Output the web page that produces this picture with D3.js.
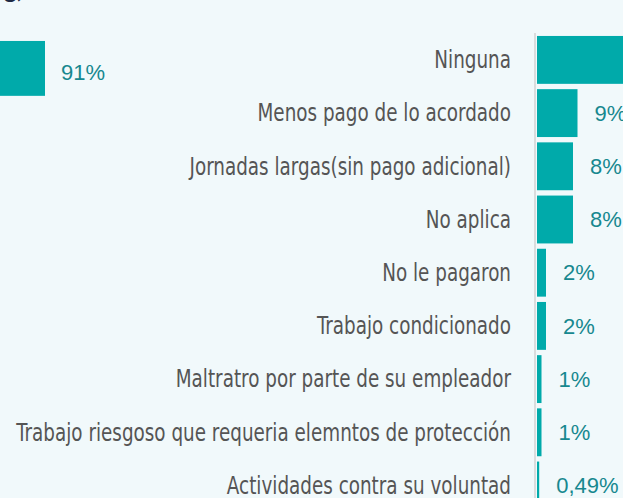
<!DOCTYPE html>
<html lang="es">
<head>
<meta charset="UTF-8">
<title>Situaciones laborales</title>
<script src="https://cdn.jsdelivr.net/npm/d3@7"></script>
<style>
    html, body { margin: 0; padding: 0; background: #f1f9fb; overflow: hidden; }
    .cat { font-family: "DejaVu Sans Condensed", "Liberation Sans Narrow", "Open Sans", sans-serif; fill: #555; }
    .val { font-family: "Liberation Sans", Arial, sans-serif; fill: #17888f; }
</style>
</head>
<body>
<svg id="chart" width="623" height="498"></svg>
<script>
    // data
    const categories = [
        "Ninguna",
        "Menos pago de lo acordado",
        "Jornadas largas(sin pago adicional)",
        "No aplica",
        "No le pagaron",
        "Trabajo condicionado",
        "Maltratro por parte de su empleador",
        "Trabajo riesgoso que requeria elemntos de protección",
        "Actividades contra su voluntad"
    ];
    const values = [91, 9, 8, 8, 2, 2, 1, 1, 0.49];
    const valueLabels = ["91%", "9%", "8%", "8%", "2%", "2%", "1%", "1%", "0,49%"];

    const W = 623, H = 498;
    const x0 = 537;        // where bars start
    const labelRight = 511;
    const barColor = "#00aaaa";

    const svg = d3.select("#chart");

    const x = d3.scaleLinear().domain([0, 100]).range([0, 450]);
    const y = d3.scaleBand()
        .domain(categories)
        .range([33.3, 33.3 + categories.length * 53.2])
        .paddingInner(0.1)
        .paddingOuter(0.05);

    // cut-off title from the block above
    svg.append("text")
        .attr("x", 4).attr("y", -2)
        .style("font-family", "Lato, sans-serif")
        .style("font-weight", "bold")
        .style("font-size", "24px")
        .style("fill", "#1e2a44")
        .text("g,");

    // left neighbour: the tail of the big bar and its label
    svg.append("rect")
        .attr("x", 0).attr("y", y(categories[0]) + 5)
        .attr("width", 45).attr("height", y.bandwidth() + 7)
        .attr("fill", barColor);
    svg.append("text")
        .attr("class", "val")
        .attr("x", 61)
        .attr("y", y(categories[0]) + y.bandwidth() / 2 + 12)
        .attr("dy", "0.35em")
        .style("font-size", "22px")
        .text(valueLabels[0]);

    // axis line
    svg.append("line")
        .attr("x1", x0 - 2).attr("x2", x0 - 2)
        .attr("y1", 33).attr("y2", H)
        .attr("stroke", "#d9dcdd")
        .attr("stroke-width", 2);

    const rows = svg.selectAll("g.row")
        .data(categories.map((c, i) => ({ cat: c, v: values[i], lab: valueLabels[i] })))
        .enter().append("g")
        .attr("class", "row")
        .attr("transform", d => `translate(0,${y(d.cat)})`);

    rows.append("rect")
        .attr("x", x0)
        .attr("width", d => Math.max(1.5, x(d.v)))
        .attr("height", y.bandwidth())
        .attr("fill", barColor);

    const cats = rows.append("text")
        .attr("class", "cat")
        .attr("x", 0)
        .attr("y", y.bandwidth() / 2)
        .attr("dy", "0.35em")
        .attr("text-anchor", "end")
        .style("font-size", "24px")
        .text(d => d.cat);

    // the original uses a condensed face: squeeze so the longest label is ~495px
    const longest = d3.max(cats.nodes(), n => n.getComputedTextLength());
    const sx = Math.min(1, 495 / longest);
    cats.attr("transform", `translate(${labelRight},0) scale(${sx},1)`);

    rows.filter((d, i) => i > 0).append("text")
        .attr("class", "val")
        .attr("x", d => x0 + Math.max(1.5, x(d.v)) + 17)
        .attr("y", y.bandwidth() / 2)
        .attr("dy", "0.35em")
        .style("font-size", "22px")
        .text(d => d.lab);
</script>
</body>
</html>
